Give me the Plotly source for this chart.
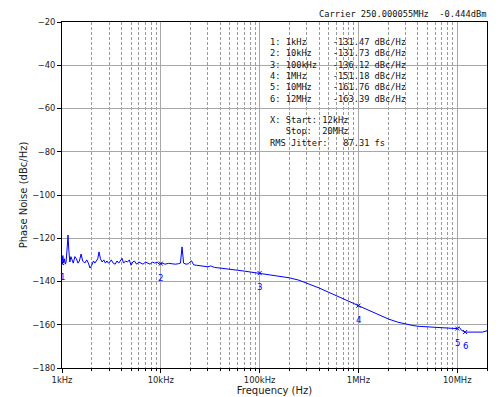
import math
import plotly.graph_objects as go

freq_hz = [1000, 1020, 1040, 1060, 1080, 1100, 1130, 1150, 1170, 1200, 1230, 1260, 1300, 1350,
           1400, 1450, 1500, 1560, 1620, 1700, 1780, 1850, 1920, 2000, 2080, 2150, 2230, 2300,
           2370, 2450, 2550, 2650, 2750, 2850, 2950, 3050, 3150, 3300, 3450, 3600, 3750, 3900,
           4050, 4200, 4400, 4600, 4800, 5000, 5200, 5400, 5700, 6000, 6300, 6600, 7000, 7400,
           7800, 8200, 8700, 9200, 9600, 10000, 10500, 11000, 12000, 13000, 14000, 15000, 15800,
           16400, 17000, 18000, 19000, 20400, 21500, 23000, 25000, 28000, 30000, 32000, 35000,
           40000, 45000, 50000, 60000, 70000, 80000, 90000, 100000, 120000, 150000, 200000,
           250000, 300000, 400000, 500000, 600000, 700000, 800000, 900000, 1000000, 1200000,
           1500000, 2000000, 2500000, 3000000, 3500000, 4000000, 5000000, 6000000, 7000000,
           8000000, 9000000, 10000000, 10500000, 11000000, 12000000, 14000000, 16000000,
           18000000, 20000000]
phase_noise = [-132.4, -128.0, -131.5, -129.5, -132.0, -131.0, -124.0, -118.5, -125.0, -131.0,
               -128.5, -130.0, -131.5, -128.5, -129.5, -131.5, -130.5, -127.3, -130.5, -131.5,
               -130.0, -131.5, -133.8, -132.5, -130.5, -131.5, -130.0, -129.5, -126.3, -129.5,
               -131.0, -130.0, -131.5, -130.5, -131.5, -131.0, -130.0, -131.5, -132.0, -130.5,
               -131.5, -130.5, -129.3, -131.5, -130.5, -131.0, -130.0, -132.5, -131.0, -130.5,
               -132.0, -131.0, -131.5, -132.0, -131.0, -131.5, -132.0, -131.0, -131.5, -131.0,
               -132.0, -131.7, -131.5, -132.0, -131.6, -131.8, -132.0, -131.8, -131.5, -124.0,
               -131.5, -132.0, -131.8, -130.4, -132.3, -132.5, -132.8, -133.0, -133.2, -132.8,
               -133.5, -133.8, -134.0, -134.3, -134.8, -135.2, -135.6, -135.9, -136.1, -136.5,
               -137.2, -138.3, -139.4, -140.7, -143.0, -145.0, -146.5, -147.8, -149.0, -150.2,
               -151.2, -152.8, -154.8, -157.3, -158.8, -159.8, -160.3, -160.7, -161.0, -161.3,
               -161.5, -161.7, -162.0, -161.8, -161.2, -162.5, -163.4, -163.3, -163.5, -163.4,
               -162.8]

marker_ids = ["1", "2", "3", "4", "5", "6"]
marker_freq = [1e3, 1e4, 1e5, 1e6, 1e7, 1.2e7]
marker_freq_text = ["1kHz", "10kHz", "100kHz", "1MHz", "10MHz", "12MHz"]
marker_values = [-131.47, -131.73, -136.12, -151.18, -161.76, -163.39]

x_tick_vals = [1e3, 1e4, 1e5, 1e6, 1e7]
x_tick_text = ["1kHz", "10kHz", "100kHz", "1MHz", "10MHz"]
y_tick_vals = [-180, -160, -140, -120, -100, -80, -60, -40, -20]

carrier_text = "Carrier 250.000055MHz  -0.444dBm"
jitter_start = "12kHz"
jitter_stop = "20MHz"
rms_jitter = "87.31 fs"

NB = "\u00a0"
minor_vals = [m * 10 ** d for d in range(3, 8) for m in range(2, 10) if m * 10 ** d <= 2e7]

fig = go.Figure()
fig.add_trace(go.Scatter(x=freq_hz, y=phase_noise, mode="lines",
                         line=dict(color="#0000ff", width=1), showlegend=False))
fig.add_trace(go.Scatter(x=marker_freq, y=marker_values, mode="markers",
                         marker=dict(symbol="x-thin", size=4, line=dict(color="#0000ff", width=1)),
                         showlegend=False))

for mid, f, v in zip(marker_ids, marker_freq, marker_values):
    fig.add_annotation(x=math.log10(f), y=v, text=mid, showarrow=False, yshift=-14,
                       font=dict(family="DejaVu Sans", size=8.6, color="#0000ff"))

lines = []
for mid, ft, v in zip(marker_ids, marker_freq_text, marker_values):
    left = f"{mid}: {ft}"
    left = left + " " * (12 - len(left))
    lines.append((left + f"{v:.2f} dBc/Hz").replace(" ", NB))
fig.add_annotation(xref="paper", yref="paper", x=0.484, y=0.962, xanchor="left", yanchor="top",
                   align="left", showarrow=False, text="<br>".join(lines),
                   font=dict(family="DejaVu Sans Mono", size=8.7, color="#111111"))

block2 = [f"X: Start: {jitter_start}", f"   Stop:  {jitter_stop}", f"RMS Jitter:   {rms_jitter}"]
block2 = [s.replace(" ", NB) for s in block2]
fig.add_annotation(xref="paper", yref="paper", x=0.484, y=0.737, xanchor="left", yanchor="top",
                   align="left", showarrow=False, text="<br>".join(block2),
                   font=dict(family="DejaVu Sans Mono", size=8.7, color="#111111"))

fig.add_annotation(xref="paper", yref="paper", x=1.003, y=1.023, xanchor="right", yanchor="middle",
                   showarrow=False, text=carrier_text.replace(" ", NB),
                   font=dict(family="DejaVu Sans Mono", size=8.7, color="#111111"))

# page body has an 8px margin, so shift the plot area up/left by 8px
fig.update_layout(
    width=500, height=397,
    margin=dict(l=54, r=21, t=14, b=37),
    paper_bgcolor="white", plot_bgcolor="white",
    font=dict(family="DejaVu Sans", size=8.4, color="#222222"),
    xaxis=dict(type="log", range=[3, math.log10(2e7)], tickvals=x_tick_vals, ticktext=x_tick_text,
               automargin=False,
               showgrid=True, gridcolor="#a8a8a8", gridwidth=1,
               showline=True, linecolor="black", linewidth=1, mirror=True,
               ticks="outside", ticklen=4, tickcolor="black",
               minor=dict(tickvals=minor_vals, showgrid=True, gridcolor="#9a9a9a", griddash="3px,2px",
                          gridwidth=1, ticks="outside", ticklen=2, tickcolor="black"),
               title=dict(text="Frequency (Hz)", standoff=2), zeroline=False),
    yaxis=dict(range=[-180, -20], tickvals=y_tick_vals, showgrid=True, gridcolor="#a8a8a8",
               automargin=False,
               gridwidth=1, showline=True, linecolor="black", linewidth=1, mirror=True,
               ticks="outside", ticklen=4, tickcolor="black",
               title=dict(text="Phase Noise (dBc/Hz)", standoff=2), zeroline=False),
)

fig.write_html("out.html")
